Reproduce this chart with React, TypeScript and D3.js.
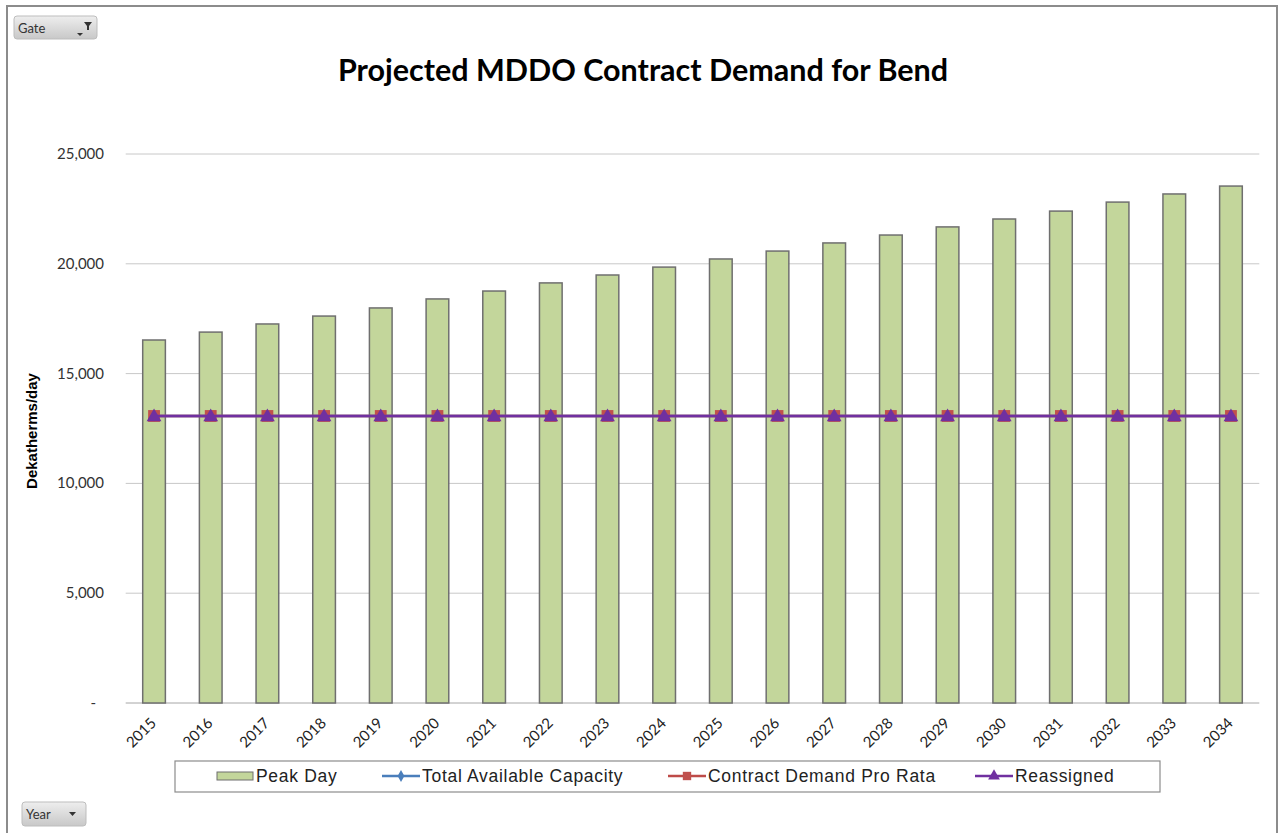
import React from "react";
import * as d3 from "d3";

const years = ["2015","2016","2017","2018","2019","2020","2021","2022","2023","2024","2025","2026","2027","2028","2029","2030","2031","2032","2033","2034"];
const peakDay = [16530,16890,17260,17620,17990,18400,18760,19130,19490,19850,20220,20580,20950,21310,21680,22040,22400,22810,23180,23540];
const totalCapacity = [13070,13070,13070,13070,13070,13070,13070,13070,13070,13070,13070,13070,13070,13070,13070,13070,13070,13070,13070,13070];
const contractProRata = [13070,13070,13070,13070,13070,13070,13070,13070,13070,13070,13070,13070,13070,13070,13070,13070,13070,13070,13070,13070];
const reassigned = [13070,13070,13070,13070,13070,13070,13070,13070,13070,13070,13070,13070,13070,13070,13070,13070,13070,13070,13070,13070];
const yTicks = [0,5000,10000,15000,20000,25000];

export default function App() {
  const W = 1280, H = 833;
  const left = 125.7, right = 1259.3, top = 154, bottom = 703;
  const x = d3.scaleBand<string>().domain(years).range([left, right]).paddingInner(0.6).paddingOuter(0.3);
  const xc = (d: string) => (x(d) as number) + x.bandwidth() / 2;
  const y = d3.scaleLinear().domain([0, 25000]).range([bottom, top]);
  const fmt = d3.format(",");
  const line = d3.line<number>().x((_, i) => xc(years[i])).y((v) => y(v));
  const tri = d3.symbol().type(d3.symbolTriangle).size(95)() as string;
  const sq = d3.symbol().type(d3.symbolSquare).size(140)() as string;
  const dia = d3.symbol().type(d3.symbolDiamond).size(40)() as string;
  const triL = d3.symbol().type(d3.symbolTriangle).size(60)() as string;
  const sqL = d3.symbol().type(d3.symbolSquare).size(70)() as string;

  const legendItems = [
    { label: "Peak Day", kind: "bar", x: 217 },
    { label: "Total Available Capacity", kind: "line", color: "#4a7ebb", marker: "dia", x: 382 },
    { label: "Contract Demand Pro Rata", kind: "line", color: "#be4b48", marker: "sq", x: 668 },
    { label: "Reassigned", kind: "line", color: "#7030a0", marker: "tri", x: 975 },
  ];

  return (
    <svg width={W} height={H} style={{ position: "absolute", left: 0, top: 0, background: "#fff" }}>
      <defs>
        <linearGradient id="btn" x1="0" y1="0" x2="0" y2="1">
          <stop offset="0" stopColor="#eeeeee" />
          <stop offset="1" stopColor="#c8c8c8" />
        </linearGradient>
      </defs>
      <rect x={0} y={0} width={W} height={H} fill="#fff" />
      {/* outer frame */}
      <path d={`M7,${H} L7,6 L1277,6 L1277,${H}`} fill="none" stroke="#8c8c8c" strokeWidth={2} />

      {/* buttons */}
      <rect x={14} y={16} width={83} height={23} rx={3} fill="url(#btn)" stroke="#bdbdbd" />
      <text x={18} y={33} fontFamily="Lato, sans-serif" fontSize={13} fill="#333">Gate</text>
      <path d="M77,33 l6,0 l-3,3 z" fill="#333" />
      <path d="M84,22 l8,0 l-3,4 l0,4 l-2,0 l0,-4 z" fill="#333" />
      <rect x={22} y={802} width={64} height={24} rx={3} fill="url(#btn)" stroke="#bdbdbd" />
      <text x={26} y={819} fontFamily="Lato, sans-serif" fontSize={13} fill="#333">Year</text>
      <path d="M69,812 l7,0 l-3.5,4 z" fill="#333" />

      {/* title */}
      <text x={643} y={81} textAnchor="middle" fontFamily="Lato, sans-serif" fontWeight="bold" fontSize={30.5} fill="#000">Projected MDDO Contract Demand for Bend</text>

      {/* gridlines */}
      {yTicks.map((t) => (
        <line key={t} x1={left} x2={right} y1={y(t)} y2={y(t)} stroke={t === 0 ? "#a6a6a6" : "#c8c8c8"} strokeWidth={1} />
      ))}
      {yTicks.map((t) => (
        <text key={"l" + t} x={t === 0 ? 96 : 104} y={y(t) + 5} textAnchor="end" fontFamily="Lato, sans-serif" fontSize={15} fill="#333">
          {t === 0 ? "-" : fmt(t)}
        </text>
      ))}
      <text transform={`translate(37,431) rotate(-90)`} textAnchor="middle" fontFamily="'Liberation Sans', Arial, sans-serif" fontWeight="bold" fontSize={15} fill="#000">Dekatherms/day</text>

      {/* bars */}
      {years.map((yr, i) => (
        <rect key={yr} x={x(yr)} y={y(peakDay[i])} width={x.bandwidth()} height={bottom - y(peakDay[i])} fill="#c3d69b" stroke="#6f6f6f" strokeWidth={1.5} />
      ))}

      {/* lines */}
      <path d={line(totalCapacity) as string} fill="none" stroke="#4a7ebb" strokeWidth={2.5} />
      {years.map((yr, i) => (
        <path key={"d" + yr} d={dia} transform={`translate(${xc(yr)},${y(totalCapacity[i])})`} fill="#4a7ebb" />
      ))}
      <path d={line(contractProRata) as string} fill="none" stroke="#be4b48" strokeWidth={2.5} />
      {years.map((yr, i) => (
        <path key={"s" + yr} d={sq} transform={`translate(${xc(yr)},${y(contractProRata[i])})`} fill="#c0504d" />
      ))}
      <path d={line(reassigned) as string} fill="none" stroke="#7030a0" strokeWidth={2.5} />
      {years.map((yr, i) => (
        <path key={"t" + yr} d={tri} transform={`translate(${xc(yr)},${y(reassigned[i]) + 1})`} fill="#7030a0" />
      ))}

      {/* x labels */}
      {years.map((yr) => (
        <text key={"x" + yr} transform={`translate(${xc(yr) + 3},${bottom + 21}) rotate(-45)`} textAnchor="end" fontFamily="Lato, sans-serif" fontSize={15} fill="#222">{yr}</text>
      ))}

      {/* legend */}
      <rect x={175} y={761} width={985} height={31} fill="#fff" stroke="#8c8c8c" strokeWidth={1.2} />
      {legendItems.map((it) => (
        <g key={it.label}>
          {it.kind === "bar" ? (
            <rect x={it.x} y={772} width={36} height={8} fill="#c3d69b" stroke="#6f6f6f" strokeWidth={1} />
          ) : (
            <g>
              <line x1={it.x} x2={it.x + 38} y1={776} y2={776} stroke={it.color} strokeWidth={2.5} />
              <path d={it.marker === "tri" ? triL : it.marker === "sq" ? sqL : dia} transform={`translate(${it.x + 19},776)`} fill={it.marker === "sq" ? "#c0504d" : it.color} />
            </g>
          )}
          <text x={it.x + (it.kind === "bar" ? 39 : 40)} y={782} fontFamily="'Liberation Sans', Arial, sans-serif" fontSize={17.5} letterSpacing={0.7} fill="#222">{it.label}</text>
        </g>
      ))}
    </svg>
  );
}
